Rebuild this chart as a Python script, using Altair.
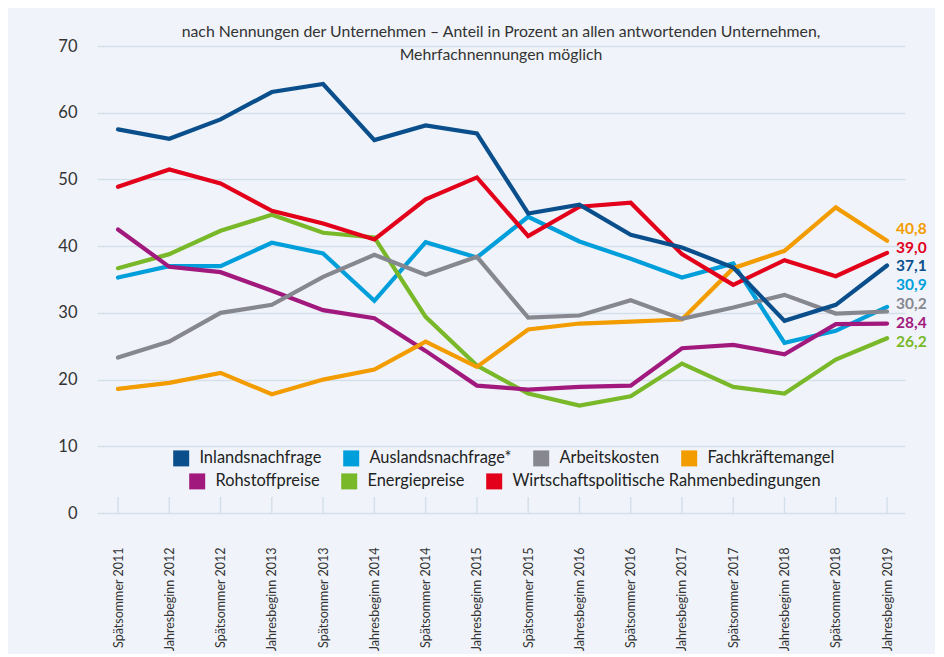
import json
import altair as alt
import pandas as pd

periods = ["Spätsommer 2011", "Jahresbeginn 2012", "Spätsommer 2012", "Jahresbeginn 2013",
           "Spätsommer 2013", "Jahresbeginn 2014", "Spätsommer 2014", "Jahresbeginn 2015",
           "Spätsommer 2015", "Jahresbeginn 2016", "Spätsommer 2016", "Jahresbeginn 2017",
           "Spätsommer 2017", "Jahresbeginn 2018", "Spätsommer 2018", "Jahresbeginn 2019"]

inland = [57.5, 56.1, 59.0, 63.1, 64.3, 55.9, 58.1, 56.9, 44.9, 46.2, 41.7, 39.8, 36.8, 28.8, 31.2, 37.1]
ausland = [35.3, 37.0, 37.0, 40.5, 38.9, 31.8, 40.6, 38.3, 44.4, 40.7, 38.1, 35.3, 37.4, 25.5, 27.3, 30.9]
arbeitskosten = [23.3, 25.7, 30.0, 31.2, 35.4, 38.7, 35.7, 38.4, 29.3, 29.6, 31.9, 29.1, 30.8, 32.7, 29.9, 30.2]
fachkraefte = [18.6, 19.5, 21.0, 17.8, 20.0, 21.5, 25.7, 21.9, 27.5, 28.4, 28.7, 29.0, 36.7, 39.3, 45.8, 40.8]
rohstoff = [42.5, 36.9, 36.1, 33.3, 30.4, 29.2, 24.3, 19.1, 18.5, 18.9, 19.1, 24.7, 25.2, 23.8, 28.3, 28.4]
energie = [36.7, 38.8, 42.3, 44.7, 42.0, 41.3, 29.4, 22.1, 17.9, 16.1, 17.5, 22.4, 18.9, 17.9, 23.0, 26.2]
wirtschaft = [48.9, 51.5, 49.4, 45.3, 43.4, 41.0, 47.0, 50.3, 41.5, 45.9, 46.5, 38.8, 34.2, 37.9, 35.5, 39.0]

names = ["Inlandsnachfrage", "Auslandsnachfrage*", "Arbeitskosten", "Fachkräftemangel",
         "Rohstoffpreise", "Energiepreise", "Wirtschaftspolitische Rahmenbedingungen"]
values = [inland, ausland, arbeitskosten, fachkraefte, rohstoff, energie, wirtschaft]
colors = ["#0a4f8c", "#009fdb", "#87888f", "#f39c00", "#a2197e", "#79b829", "#e2001a"]

# drawing order (bottom to top)
draw_order = ["Auslandsnachfrage*", "Energiepreise", "Rohstoffpreise", "Fachkräftemangel",
              "Arbeitskosten", "Wirtschaftspolitische Rahmenbedingungen", "Inlandsnachfrage"]
# pixel nudges for end labels to avoid overlaps
label_nudge = {"Inlandsnachfrage": 1.0, "Auslandsnachfrage*": -21.6, "Arbeitskosten": -7.4,
               "Fachkräftemangel": -11.9, "Rohstoffpreise": -0.6, "Energiepreise": 3.5,
               "Wirtschaftspolitische Rahmenbedingungen": -5.1}

series_vals = dict(zip(names, values))
rows = []
for s in draw_order:
    for i, v in enumerate(series_vals[s]):
        rows.append({"series": s, "idx": i, "value": v})
df = pd.DataFrame(rows)

lab_rows = []
for s in names:
    v = series_vals[s][-1]
    lab_rows.append({"series": s, "idx": len(periods) - 1, "value": v,
                     "label": f"{v:.1f}".replace(".", ",")})
df_lab = pd.DataFrame(lab_rows)

df_ticks = pd.DataFrame({"idx": list(range(len(periods)))})

FONT = "Lato"
GRID = "#d5dfeb"
TXT = "#333333"

label_expr = json.dumps(periods, ensure_ascii=False) + "[round(datum.value)]"

x_enc = alt.X("idx:Q",
              scale=alt.Scale(domain=[-0.41, 15.35], nice=False, zero=False),
              axis=alt.Axis(values=list(range(len(periods))), labelExpr=label_expr,
                            labelAngle=-90, labelPadding=34, ticks=False, tickSize=0,
                            domain=False, grid=False, title=None, labelFontSize=12.5,
                            labelColor=TXT, labelFont=FONT, labelOverlap=False))
y_enc = alt.Y("value:Q",
              scale=alt.Scale(domain=[0, 70], nice=False),
              axis=alt.Axis(values=list(range(0, 71, 10)), grid=True, gridColor=GRID,
                            gridWidth=1.5, ticks=False, domain=False, labelPadding=20,
                            labelFontSize=16.5, labelColor=TXT, labelFont=FONT, title=None))

color_all = alt.Color("series:N", scale=alt.Scale(domain=names, range=colors), legend=None)

ticks = alt.Chart(df_ticks).mark_rule(color=GRID, strokeWidth=1.5).encode(
    x=alt.X("idx:Q"), y=alt.datum(0), y2=alt.datum(2.4))

lines = alt.Chart(df).mark_line(strokeWidth=4.2, strokeCap="round").encode(
    x=x_enc, y=y_enc, color=color_all)

label_layers = []
for s in names:
    label_layers.append(
        alt.Chart(df_lab).transform_filter(alt.datum.series == s).mark_text(
            align="left", baseline="middle", dx=9, dy=label_nudge[s], fontSize=15.5,
            fontWeight="bold", font=FONT).encode(
            x=alt.X("idx:Q"), y=alt.Y("value:Q"), text="label:N", color=color_all))

rowA = names[:4]
rowB = names[4:]


def legend_layer(row, lx, ly):
    return alt.Chart(df).transform_filter(
        alt.FieldOneOfPredicate(field="series", oneOf=row)
    ).mark_point(shape="square", filled=True, opacity=0).encode(
        x=alt.X("idx:Q"), y=alt.Y("value:Q"),
        color=alt.Color("series:N",
                        scale=alt.Scale(domain=row, range=[colors[names.index(r)] for r in row]),
                        legend=alt.Legend(orient="none", legendX=lx, legendY=ly,
                                          direction="horizontal", title=None,
                                          symbolType="square", symbolSize=256,
                                          symbolOpacity=1, symbolStrokeWidth=0,
                                          labelFontSize=16.4, labelFont=FONT,
                                          labelColor="#222222", labelOffset=10,
                                          columnPadding=21, padding=0, labelLimit=500)))


legA = legend_layer(rowA, 76, 404)
legB = legend_layer(rowB, 92, 427)

chart = alt.layer(ticks, lines, *label_layers, legA, legB).resolve_scale(
    color="independent"
).properties(
    width=808, height=467,
    autosize=alt.AutoSizeParams(type="none"),
    padding={"left": 89, "top": 38, "right": 30, "bottom": 141},
    background="#f0f4fa",
    title=alt.TitleParams(
        text=["nach Nennungen der Unternehmen – Anteil in Prozent an allen antwortenden Unternehmen,",
              "Mehrfachnennungen möglich"],
        anchor="middle", frame="group", fontSize=15.8, font=FONT, fontWeight="normal",
        color=TXT, baseline="top", lineHeight=23, offset=12, dy=38),
).configure_view(stroke=None)

chart.save("out.html", embed_options={"renderer": "svg", "actions": False})
